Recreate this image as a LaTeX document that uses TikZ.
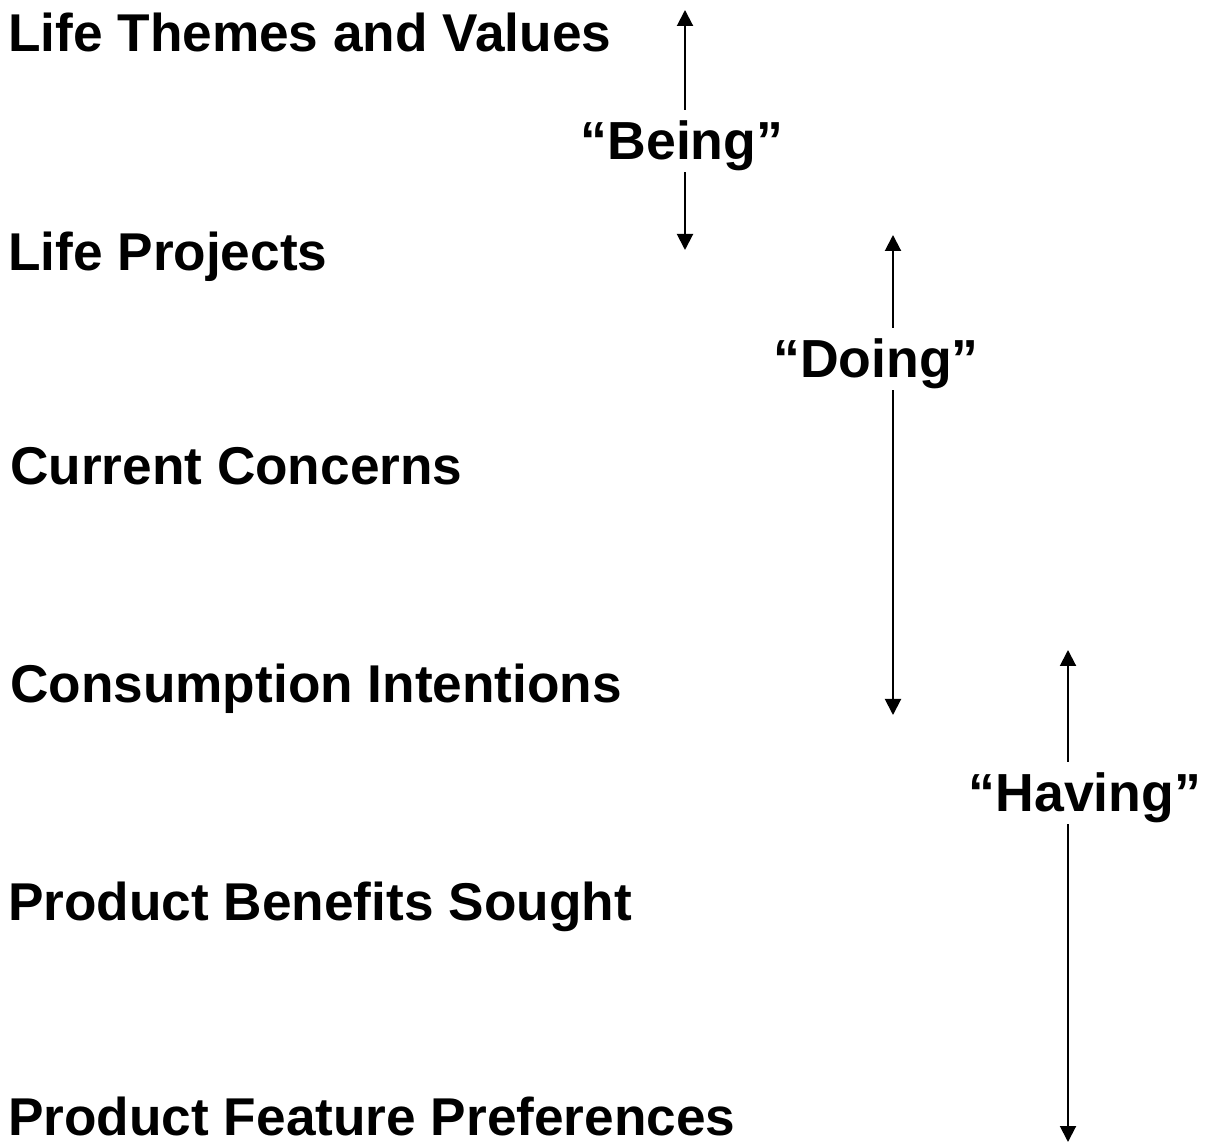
\documentclass[tikz,border=0pt]{standalone}
\usepackage{fontspec}
\setmainfont{Liberation Sans}
\usetikzlibrary{arrows.meta}
\begin{document}
\begin{tikzpicture}[x=1pt,y=1pt,
  lvl/.style={anchor=base west,inner sep=0pt,font=\fontsize{53.2}{60}\selectfont\bfseries},
  lbl/.style={anchor=base,inner xsep=0pt,inner ysep=12pt,text height=38pt,text depth=0pt,font=\fontsize{53.6}{60}\selectfont\bfseries},
  arr/.style={line width=2pt,-{Triangle[length=16pt,width=16pt]}}]
\useasboundingbox (0,0) rectangle (1205,1144);
% levels
\node[lvl] (l1) at (8,1092) {Life Themes and Values};
\node[lvl] (l2) at (8,873) {Life Projects};
\node[lvl] (l3) at (10,659) {Current Concerns};
\node[lvl] (l4) at (10,441) {Consumption Intentions};
\node[lvl] (l5) at (8,223) {Product Benefits Sought};
\node[lvl] (l6) at (8,9) {Product Feature Preferences};
% labels
\node[lbl] (being) at (682,984) {“Being”};
\node[lbl] (doing) at (876,766) {“Doing”};
\node[lbl] (having) at (1085,332) {“Having”};
% arrow tips
\coordinate (bt) at (685,1134);
\coordinate (bb) at (685,894);
\coordinate (dt) at (893,909);
\coordinate (db) at (893,429);
\coordinate (ht) at (1068,494);
\coordinate (hb) at (1068,2);
% arrows
\draw[arr] (being.north -| bt) -- (bt);
\draw[arr] (being.south -| bb) -- (bb);
\draw[arr] (doing.north -| dt) -- (dt);
\draw[arr] (doing.south -| db) -- (db);
\draw[arr] (having.north -| ht) -- (ht);
\draw[arr] (having.south -| hb) -- (hb);
\end{tikzpicture}
\end{document}
